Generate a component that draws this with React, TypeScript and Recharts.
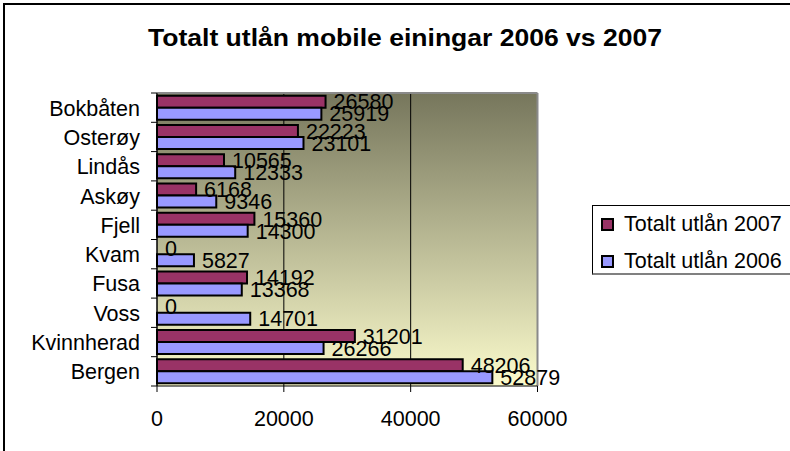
import React from "react"
import {
  Bar,
  BarChart,
  CartesianGrid,
  LabelList,
  Legend,
  ReferenceLine,
  XAxis,
  YAxis,
} from "recharts"

const categories = ["Bokbåten", "Osterøy", "Lindås", "Askøy", "Fjell", "Kvam", "Fusa", "Voss", "Kvinnherad", "Bergen"]
const utlan2007 = [26580, 22223, 10565, 6168, 15360, 0, 14192, 0, 31201, 48206]
const utlan2006 = [25919, 23101, 12333, 9346, 14300, 5827, 13368, 14701, 26266, 52879]
const xTicks = [0, 20000, 40000, 60000]
const seriesNames = ["Totalt utlån 2007", "Totalt utlån 2006"]
const title = "Totalt utlån mobile einingar 2006 vs 2007"

const data = categories.map((name, i) => ({
  name,
  y2007: utlan2007[i],
  y2006: utlan2006[i],
}))

const FONT = "'Liberation Sans', Arial, Helvetica, sans-serif"
const W = 790
const H = 451
const PLOT_LEFT = 157
const PLOT_TOP = 93
const PLOT_BOTTOM = 386
const BAND = (PLOT_BOTTOM - PLOT_TOP) / categories.length

const CategoryTick = (props: any) => {
  const { y, payload, index } = props
  const top = y - BAND / 2
  return (
    <g>
      <line x1={PLOT_LEFT - 6} x2={PLOT_LEFT} y1={top} y2={top} stroke="#000" />
      {index === categories.length - 1 && (
        <line x1={PLOT_LEFT - 6} x2={PLOT_LEFT} y1={y + BAND / 2} y2={y + BAND / 2} stroke="#000" />
      )}
      <text x={PLOT_LEFT - 17} y={y + 8} textAnchor="end" fontSize={21.5} fontFamily={FONT} fill="#000">
        {payload.value}
      </text>
    </g>
  )
}

const ValueTick = (props: any) => {
  const { x, y, payload } = props
  return (
    <text x={x} y={y + 32} textAnchor="middle" fontSize={21.5} fontFamily={FONT} fill="#000">
      {payload.value}
    </text>
  )
}

const valueText = (x: number, y: number, value: any, key?: string) => (
  <text key={key} x={x} y={y} dy="0.36em" fontSize={21.5} fontFamily={FONT} fill="#000">
    {value}
  </text>
)

const Value2007 = (props: any) => {
  const { x, y, width, height, value } = props
  return valueText(x + width + 8, y + height / 2, value)
}

// recharts drops zero-width bars, so the 2007 "0" labels are placed from the 2006 bar just below
const Value2006 = (props: any) => {
  const { x, y, width, height, value, index } = props
  return (
    <g>
      {valueText(x + width + 8, y + height / 2, value)}
      {utlan2007[index] === 0 && valueText(x + 8, y - height / 2, utlan2007[index])}
    </g>
  )
}

const LegendBox = (props: any) => {
  const items = [...(props.payload || [])].sort(
    (a: any, b: any) => seriesNames.indexOf(a.value) - seriesNames.indexOf(b.value)
  )
  return (
    <div
      style={{
        boxSizing: "border-box",
        width: 220,
        height: 70,
        borderTop: "1px solid #000",
        borderLeft: "1px solid #000",
        borderBottom: "2px solid #808080",
        background: "#fff",
        paddingLeft: 8,
        fontFamily: FONT,
        fontSize: 21.5,
        color: "#000",
      }}
    >
      {items.map((entry: any) => (
        <div key={entry.value} style={{ height: 37, display: "flex", alignItems: "center" }}>
          <span
            style={{
              display: "inline-block",
              boxSizing: "border-box",
              width: 13,
              height: 13,
              border: "2px solid #000",
              background: entry.color,
              marginRight: 10,
            }}
          />
          <span>{entry.value}</span>
        </div>
      ))}
    </div>
  )
}

export default function App() {
  return (
    <div style={{ position: "absolute", left: 0, top: 0, width: W, height: H, overflow: "hidden", background: "#fff" }}>
      <div
        style={{
          position: "absolute",
          left: 3,
          top: 3,
          width: 820,
          height: 480,
          border: "2px solid #000",
        }}
      />
      <svg width={W} height={70} style={{ position: "absolute", left: 0, top: 0 }}>
        <text
          x={405}
          y={46}
          textAnchor="middle"
          fontSize={23}
          fontWeight="bold"
          fontFamily={FONT}
          textLength={514}
          lengthAdjust="spacingAndGlyphs"
          fill="#000"
        >
          {title}
        </text>
      </svg>
      <div style={{ position: "absolute", left: 0, top: 0 }}>
        <BarChart
          width={W}
          height={H}
          data={data}
          layout="vertical"
          margin={{ top: PLOT_TOP, right: W - 537.5, bottom: 0, left: 0 }}
          barCategoryGap="9%"
          barGap={0}
        >
          <defs>
            <linearGradient id="plotFill" x1="0" y1="0" x2="0" y2="1">
              <stop offset="0%" stopColor="#76765c" />
              <stop offset="100%" stopColor="#fbfbcc" />
            </linearGradient>
          </defs>
          <CartesianGrid horizontal={false} stroke="#000" fill="url(#plotFill)" fillOpacity={1} />
          <CartesianGrid
            vertical={false}
            stroke="#8a8a8a"
            strokeWidth={2}
            horizontalCoordinatesGenerator={({ offset }: any) => [offset.top]}
          />
          <ReferenceLine x={60000} stroke="#8a8a8a" strokeWidth={2} />
          <XAxis
            type="number"
            domain={[0, 60000]}
            ticks={xTicks}
            height={H - PLOT_BOTTOM}
            axisLine={{ stroke: "#000" }}
            tickLine={{ stroke: "#000" }}
            tick={<ValueTick />}
          />
          <YAxis
            type="category"
            dataKey="name"
            width={PLOT_LEFT}
            interval={0}
            axisLine={{ stroke: "#000" }}
            tickLine={false}
            tick={<CategoryTick />}
          />
          <Legend
            layout="vertical"
            align="center"
            verticalAlign="middle"
            content={<LegendBox />}
            wrapperStyle={{ left: 592, top: 205, width: 220, height: 70 }}
          />
          <Bar dataKey="y2007" name={seriesNames[0]} fill="#993366" stroke="#000" strokeWidth={2} isAnimationActive={false}>
            <LabelList dataKey="y2007" content={Value2007} />
          </Bar>
          <Bar dataKey="y2006" name={seriesNames[1]} fill="#9999ff" stroke="#000" strokeWidth={2} isAnimationActive={false}>
            <LabelList dataKey="y2006" content={Value2006} />
          </Bar>
        </BarChart>
      </div>
    </div>
  )
}
